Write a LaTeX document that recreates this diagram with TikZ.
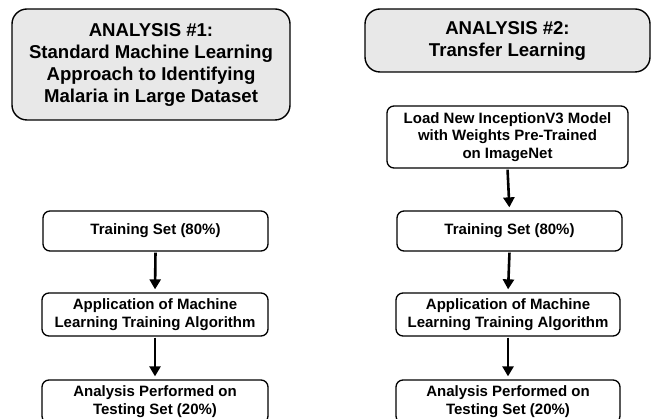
\documentclass[tikz,border=0pt]{standalone}
\usepackage{fontspec}
\setmainfont{Liberation Sans}
\usetikzlibrary{arrows.meta}
\begin{document}
\begin{tikzpicture}[x=1pt,y=-1pt,
  header/.style={draw, line width=1.4pt, rounded corners=15pt, fill=black!9, align=center,
    font=\bfseries\fontsize{18.6}{22}\selectfont, inner sep=0pt},
  stepbox/.style={draw, line width=1.3pt, rounded corners=7pt, fill=white, align=center,
    font=\bfseries\fontsize{15}{17.7}\selectfont, inner sep=0pt},
  flow/.style={line width=2.6pt, -{Triangle[width=11pt,length=10pt]}, shorten >=3pt, shorten <=1pt}]
\useasboundingbox (0,0) rectangle (652,419);
\clip (0,0) rectangle (652,419);
\node[header, minimum width=278pt, minimum height=111pt] (h1) at (151,64.5)
  {ANALYSIS \#1:\\Standard Machine Learning\\Approach to Identifying\\Malaria in Large Dataset};
\node[header, minimum width=285pt, minimum height=63pt] (h2) at (507.5,40.5)
  {ANALYSIS \#2:\\Transfer Learning};
\node[stepbox, minimum width=241pt, minimum height=62pt] (load) at (507.5,137)
  {Load New InceptionV3 Model\\with Weights Pre-Trained\\on ImageNet};
\node[stepbox, minimum width=225pt, minimum height=40pt] (lt) at (155.5,231) {Training Set (80\%)};
\node[stepbox, minimum width=226pt, minimum height=43pt] (la) at (155,314.5)
  {Application of Machine\\Learning Training Algorithm};
\node[stepbox, minimum width=226pt, minimum height=43pt] (lp) at (155,401.5)
  {Analysis Performed on\\Testing Set (20\%)};
\node[stepbox, minimum width=225pt, minimum height=40pt] (rt) at (509.5,231) {Training Set (80\%)};
\node[stepbox, minimum width=224pt, minimum height=43pt] (ra) at (508,314.5)
  {Application of Machine\\Learning Training Algorithm};
\node[stepbox, minimum width=224pt, minimum height=43pt] (rp) at (508,401.5)
  {Analysis Performed on\\Testing Set (20\%)};
\draw[flow] (load.south) -- (rt.north);
\draw[flow] (lt.south) -- (la.north);
\draw[flow] (la.south) -- (lp.north);
\draw[flow] (rt.south) -- (ra.north);
\draw[flow] (ra.south) -- (rp.north);
\end{tikzpicture}
\end{document}
